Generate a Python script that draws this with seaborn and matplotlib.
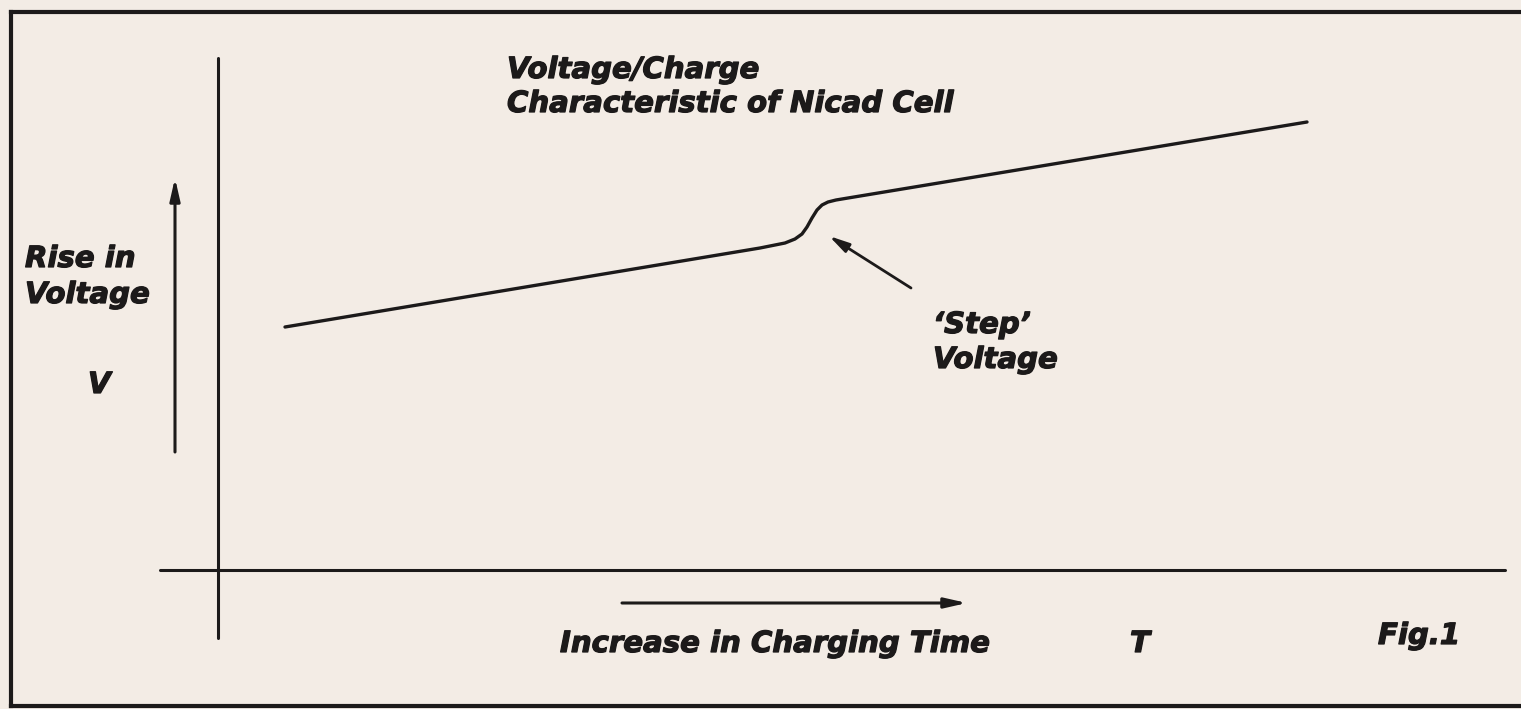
import matplotlib
matplotlib.use("Agg")
import matplotlib.pyplot as plt
import matplotlib.patheffects as pe
import seaborn as sns
import pandas as pd

# ---- data (schematic: charging time T vs rise in voltage V, arbitrary units) ----
time_T = [6.7, 54.2, 56.7, 57.7, 58.4, 58.9, 59.4, 59.9, 60.4, 61.0, 61.8, 62.7, 108.9]
volt_V = [24.3, 32.2, 32.7, 33.1, 33.6, 34.3, 35.2, 36.0, 36.5, 36.8, 37.0, 37.15, 44.8]

title_lines = ["Voltage/Charge", "Characteristic of Nicad Cell"]
y_label_lines = ["Rise in", "Voltage"]
y_symbol = "V"
x_label = "Increase in Charging Time"
x_symbol = "T"
step_label_lines = ["\u2018Step\u2019", "Voltage"]
fig_label = "Fig.1"

df = pd.DataFrame({"T": time_T, "V": volt_V})

sns.set_theme(style="white")
plt.rcParams["font.family"] = ["DejaVu Sans"]

W, H = 1521, 709
BG = "#f3ece5"
INK = "#1c1a1a"

fig = plt.figure(figsize=(W / 100, H / 100), dpi=100, facecolor=BG)
ax = fig.add_axes([0, 0, 1, 1])
ax.set_facecolor(BG)

# pixel -> data helper (layout only)
X0, Y0, S = 218, 570, 10.0
def P(px, py):
    return ((px - X0) / S, (Y0 - py) / S)

ax.set_xlim(P(0, 0)[0], P(W, 0)[0])
ax.set_ylim(P(0, H)[1], P(0, 0)[1])
ax.axis("off")

# frame (left, top, bottom)
lw_frame = 3.0
xl, yt = P(11, 12)
xr, yb = P(W + 5, 706)
ax.plot([xl, xl], [yt, yb], color=INK, lw=lw_frame, solid_capstyle="projecting")
ax.plot([xl, xr], [yt, yt], color=INK, lw=lw_frame, solid_capstyle="projecting")
ax.plot([xl, xr], [yb, yb], color=INK, lw=lw_frame, solid_capstyle="projecting")

# axes lines
ax.plot([0, 0], [P(0, 58)[1], P(0, 638)[1]], color=INK, lw=2.2)
ax.plot([P(160, 0)[0], P(1505, 0)[0]], [0, 0], color=INK, lw=2.2)

# curve
sns.lineplot(data=df, x="T", y="V", ax=ax, color=INK, lw=2.4, sort=False)
ax.set_xlabel("")
ax.set_ylabel("")

# direction arrows
arrow_kw = dict(arrowstyle="-|>,head_length=1.1,head_width=0.25", color=INK, lw=2.2,
                shrinkA=0, shrinkB=0)
ax.annotate("", xy=P(175, 178), xytext=P(175, 452), arrowprops=arrow_kw)
ax.annotate("", xy=P(967, 603), xytext=P(622, 603), arrowprops=arrow_kw)
ax.annotate("", xy=P(829, 236), xytext=P(911, 288),
            arrowprops=dict(arrowstyle="-|>,head_length=1.0,head_width=0.25",
                            color=INK, lw=2.0, shrinkA=0, shrinkB=0))

# texts
tkw = dict(fontsize=21, fontweight="bold", fontstyle="italic", color=INK,
           ha="left", va="baseline",
           path_effects=[pe.withStroke(linewidth=0.9, foreground=INK)])
ax.text(*P(507, 78), title_lines[0], **tkw)
ax.text(*P(507, 112), title_lines[1], **tkw)
ax.text(*P(25, 267), y_label_lines[0], **tkw)
ax.text(*P(25, 303), y_label_lines[1], **tkw)
ax.text(*P(88, 393), y_symbol, **tkw)
ax.text(*P(933, 333), step_label_lines[0], **tkw)
ax.text(*P(933, 368), step_label_lines[1], **tkw)
ax.text(*P(560, 652), x_label, **tkw)
ax.text(*P(1130, 652), x_symbol, **tkw)
ax.text(*P(1378, 644), fig_label, **tkw)

fig.savefig("out.png", dpi=100, facecolor=BG)
